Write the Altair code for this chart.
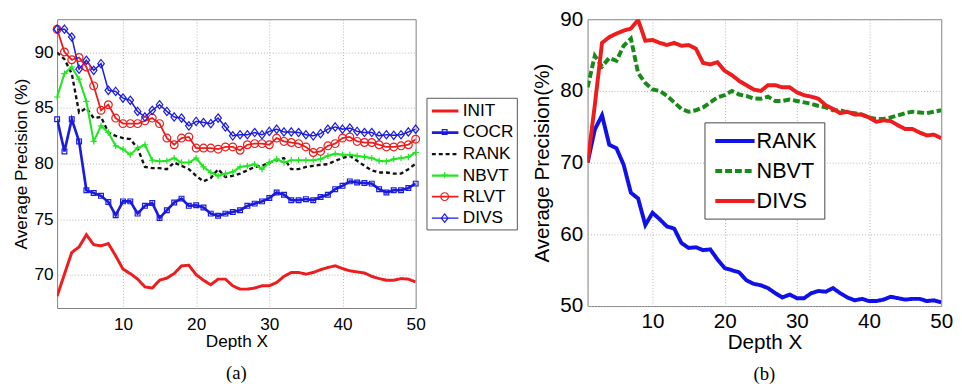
import altair as alt
import pandas as pd

depth = list(range(1, 51))

# ---------- panel (a) ----------
a_init = [68.07, 70.05, 72.0, 72.5, 73.6, 72.7, 72.6, 72.8, 71.7, 70.5,
          70.1, 69.6, 68.9, 68.8, 69.5, 69.7, 70.1, 70.8, 70.85, 70.0,
          69.5, 69.1, 69.6, 69.6, 69.0, 68.7, 68.7, 68.8, 69.0, 69.0,
          69.3, 69.85, 70.2, 70.2, 70.05, 70.2, 70.45, 70.65, 70.8, 70.55,
          70.35, 70.25, 70.15, 69.85, 69.65, 69.5, 69.5, 69.65, 69.6, 69.35]
a_cocr = [84.0, 81.1, 84.0, 82.0, 77.6, 77.35, 77.1, 76.55, 75.35, 76.6,
          76.6, 75.5, 76.2, 76.45, 75.1, 75.8, 76.5, 76.85, 76.2, 76.25,
          76.05, 75.5, 75.3, 75.5, 75.65, 75.8, 76.2, 76.4, 76.6, 76.9,
          77.4, 77.2, 76.7, 76.7, 76.8, 76.7, 77.0, 77.2, 77.7, 78.0,
          78.4, 78.3, 78.25, 78.2, 77.7, 77.4, 77.6, 77.6, 77.8, 78.2]
a_rank = [90.0, 89.4, 88.1, 84.6, 85.0, 84.1, 84.2, 82.8, 82.5, 82.3,
          82.2, 81.4, 79.7, 79.6, 79.6, 79.5, 80.1, 79.8, 79.5, 78.9,
          78.4, 78.7, 79.5, 78.8, 78.9, 79.1, 79.4, 79.7, 79.8, 80.1,
          80.3, 80.5, 79.5, 79.5, 79.7, 79.8, 79.9, 79.95, 80.25, 80.5,
          80.7, 80.25, 79.8, 79.4, 79.2, 79.2, 79.1, 79.1, 79.5, 80.0]
a_nbvt = [86.0, 88.1, 88.7, 87.6, 85.6, 82.0, 83.4, 82.8, 81.6, 81.3,
          80.8, 81.4, 81.7, 80.3, 80.2, 80.25, 80.5, 80.1, 80.1, 80.5,
          79.7, 79.2, 78.9, 79.1, 79.25, 79.7, 79.8, 79.95, 79.5, 80.1,
          80.4, 80.1, 80.3, 80.3, 80.3, 80.3, 80.4, 80.7, 80.9, 80.8,
          80.8, 80.7, 80.6, 80.5, 80.25, 80.2, 80.4, 80.5, 80.6, 81.0]
a_rlvt = [92.1, 90.05, 89.35, 89.55, 88.7, 87.0, 84.8, 85.3, 84.1, 83.6,
          83.6, 83.6, 83.85, 84.1, 83.6, 82.3, 81.7, 82.3, 82.4, 81.4,
          81.4, 81.4, 81.3, 81.5, 81.5, 81.2, 81.7, 81.8, 81.8, 81.7,
          82.3, 82.0, 81.9, 81.8, 81.5, 81.0, 81.1, 81.6, 81.8, 82.3,
          82.4, 82.0, 81.9, 81.9, 81.7, 81.5, 81.5, 81.6, 81.7, 82.2]
a_divs = [92.1, 92.1, 91.4, 88.5, 89.3, 88.4, 89.0, 86.6, 86.5, 85.9,
          85.7, 84.7, 84.2, 84.8, 85.3, 84.7, 84.2, 84.1, 83.4, 83.8,
          83.7, 83.6, 84.1, 83.3, 82.5, 82.6, 82.6, 82.8, 82.6, 82.9,
          83.1, 82.85, 82.85, 82.8, 82.6, 82.5, 82.7, 83.1, 83.3, 83.1,
          83.2, 82.9, 82.8, 82.8, 82.5, 82.6, 82.55, 82.6, 82.85, 83.1]

names_a = ["INIT", "COCR", "RANK", "NBVT", "RLVT", "DIVS"]
series_a = [a_init, a_cocr, a_rank, a_nbvt, a_rlvt, a_divs]
colors_a = ["#ee1c1c", "#1a1ae0", "#111111", "#22e622", "#ee1c1c", "#1a1ae0"]
dash_a = [[1, 0], [1, 0], [4, 3], [1, 0], [1, 0], [1, 0]]
width_a = [3, 1.5, 1.3, 1.5, 1.5, 1.5]
marker_names = ["m" + n for n in names_a]
marker_paths = [
    "M0,0L0,0",
    "M-0.27,-0.27L0.27,-0.27L0.27,0.27L-0.27,0.27Z",
    "M0,0L0,0",
    "M-0.36,0L0.36,0M0,-0.36L0,0.36",
    "M-0.44,0A0.44,0.44,0,1,0,0.44,0A0.44,0.44,0,1,0,-0.44,0Z",
    "M0,-0.47L0.37,0L0,0.47L-0.37,0Z",
]
with_markers = ["COCR", "NBVT", "RLVT", "DIVS"]

# ---------- panel (b) ----------
b_rank = [70.0, 74.6, 76.6, 72.5, 72.0, 69.7, 65.8, 65.0, 61.3, 63.0,
          62.1, 61.1, 60.8, 58.8, 58.1, 58.2, 57.8, 57.9, 56.5, 55.3,
          55.0, 54.7, 53.6, 53.1, 52.9, 52.5, 51.8, 51.2, 51.6, 51.1,
          51.1, 51.8, 52.1, 52.0, 52.5, 51.8, 51.2, 50.8, 51.0, 50.7,
          50.7, 50.9, 51.3, 51.1, 50.9, 51.0, 51.0, 50.7, 50.8, 50.5]
b_nbvt = [80.5, 84.9, 83.4, 84.6, 84.2, 86.3, 87.3, 82.5, 81.1, 80.2,
          80.0, 79.3, 78.4, 77.5, 77.1, 77.3, 77.7, 78.4, 79.1, 79.4,
          80.0, 79.5, 79.3, 78.95, 78.9, 79.2, 78.6, 78.6, 78.8, 78.6,
          78.4, 78.2, 77.9, 77.7, 77.3, 77.3, 77.0, 76.9, 76.7, 76.3,
          76.1, 76.1, 76.3, 76.6, 76.9, 77.1, 77.0, 76.9, 77.1, 77.3]
b_divs = [70.0, 78.0, 86.7, 87.5, 88.0, 88.4, 88.7, 89.9, 87.0, 87.1,
          86.7, 86.4, 86.7, 86.3, 86.4, 85.9, 83.9, 83.7, 84.0, 82.8,
          82.2, 81.4, 80.8, 80.2, 80.0, 80.8, 80.8, 80.5, 80.5, 79.8,
          79.4, 79.2, 78.9, 78.0, 77.5, 76.9, 77.1, 76.7, 76.7, 76.3,
          75.7, 75.9, 75.8, 75.2, 74.7, 74.7, 74.2, 73.8, 73.9, 73.4]

names_b = ["RANK", "NBVT", "DIVS"]
series_b = [b_rank, b_nbvt, b_divs]
colors_b = ["#1010e8", "#188a18", "#ee1c1c"]
dash_b = [[1, 0], [7, 3], [1, 0]]

x_ticks = [10, 20, 30, 40, 50]
ya_ticks = [70, 75, 80, 85, 90]
yb_ticks = [50, 60, 70, 80, 90]

FONT = "Liberation Sans"
SERIF = "Liberation Serif"

rows_a = []
for n, vals in zip(names_a, series_a):
    for x, v in zip(depth, vals):
        rows_a.append({"depth": x, "ap": v, "series": n, "mk": "m" + n})
dfa = pd.DataFrame(rows_a)

rows_b = []
for n, vals in zip(names_b, series_b):
    for x, v in zip(depth, vals):
        rows_b.append({"depth": x, "ap": v, "method": n})
dfb = pd.DataFrame(rows_b)


def axis(values, title, fs, lpad, tpad):
    return alt.Axis(values=values, title=title, labelFontSize=fs, titleFontSize=fs,
                    labelFont=FONT, titleFont=FONT, labelColor="#000", titleColor="#000",
                    titleFontWeight="normal", ticks=False, domain=False, grid=True,
                    gridColor="#b4b4b4", gridDash=[1, 2], gridWidth=1, labelFlush=False,
                    labelPadding=lpad, titlePadding=tpad)


xa = alt.X("depth:Q", scale=alt.Scale(domain=[1, 50], nice=False),
           axis=axis(x_ticks, "Depth X", 17.5, 8, 0))
ya = alt.Y("ap:Q", scale=alt.Scale(domain=[67, 93], nice=False, zero=False),
           axis=axis(ya_ticks, "Average Precision (%)", 17.5, 4, 4))

leg_common = dict(orient="none", legendX=376, legendY=80, title=None, symbolSize=324,
                  labelFontSize=17.5, labelFont=FONT, padding=3, rowPadding=2.9,
                  symbolOffset=5.5, labelOffset=7.5)
leg_lines = alt.Legend(symbolType="M-1.5,0L1.5,0", labelColor="#000",
                       strokeColor="#555", **leg_common)
leg_marks = alt.Legend(labelExpr="''", labelOpacity=0, symbolStrokeWidth=1.2, **leg_common)

lines_a = alt.Chart(dfa).mark_line(clip=True).encode(
    x=xa, y=ya,
    stroke=alt.Stroke("series:N", scale=alt.Scale(domain=names_a, range=colors_a), legend=leg_lines),
    strokeDash=alt.StrokeDash("series:N", scale=alt.Scale(domain=names_a, range=dash_a), legend=leg_lines),
    strokeWidth=alt.StrokeWidth("series:N", scale=alt.Scale(domain=names_a, range=width_a), legend=leg_lines),
    order="depth:Q",
)
points_a = alt.Chart(dfa).transform_filter(
    alt.FieldOneOfPredicate(field="series", oneOf=with_markers)
).mark_point(filled=False, size=324, strokeWidth=1.2, opacity=1).encode(
    x=xa, y=ya,
    color=alt.Color("mk:N", scale=alt.Scale(domain=marker_names, range=colors_a), legend=leg_marks),
    shape=alt.Shape("mk:N", scale=alt.Scale(domain=marker_names, range=marker_paths), legend=leg_marks),
)
panel_a = alt.layer(lines_a, points_a).properties(
    width=365, height=294,
    title=alt.Title("(a)", orient="bottom", font=SERIF, fontSize=19, fontWeight="normal",
                    color="#000", frame="group", anchor="middle", offset=14),
)

xb = alt.X("depth:Q", scale=alt.Scale(domain=[1, 50], nice=False),
           axis=axis(x_ticks, "Depth X", 21, 5, 0))
yb = alt.Y("ap:Q", scale=alt.Scale(domain=[50, 90], nice=False, zero=False),
           axis=axis(yb_ticks, "Average Precision(%)", 21, 5, 7))

leg_b = alt.Legend(orient="none", legendX=119, legendY=105, title=None,
                   symbolType="M-2,0L2,0", symbolSize=400, symbolStrokeWidth=4,
                   labelFontSize=22, labelFont=FONT, labelColor="#000",
                   fillColor="#ffffff", strokeColor="#444", padding=7, rowPadding=7.5,
                   symbolOffset=12, labelOffset=10)

panel_b = alt.Chart(dfb).mark_line(strokeWidth=4, clip=True).encode(
    x=xb, y=yb,
    color=alt.Color("method:N", scale=alt.Scale(domain=names_b, range=colors_b), legend=leg_b),
    strokeDash=alt.StrokeDash("method:N", scale=alt.Scale(domain=names_b, range=dash_b), legend=leg_b),
    order="depth:Q",
).properties(
    width=360, height=292,
    title=alt.Title("(b)", orient="bottom", font=SERIF, fontSize=19, fontWeight="normal",
                    color="#000", frame="group", anchor="middle", offset=13),
)

chart = alt.hconcat(panel_a, panel_b, spacing=175, bounds="flush").resolve_scale(
    color="independent", stroke="independent", strokeDash="independent",
    strokeWidth="independent", shape="independent"
).resolve_legend(
    color="independent", stroke="independent", strokeDash="independent",
    strokeWidth="independent", shape="independent"
).properties(
    padding={"left": 4, "top": -4, "right": 0, "bottom": 0},
    background="#ffffff",
).configure_view(stroke="#808080", strokeWidth=1)

chart.save("out.html", embed_options={"renderer": "svg", "actions": False})
